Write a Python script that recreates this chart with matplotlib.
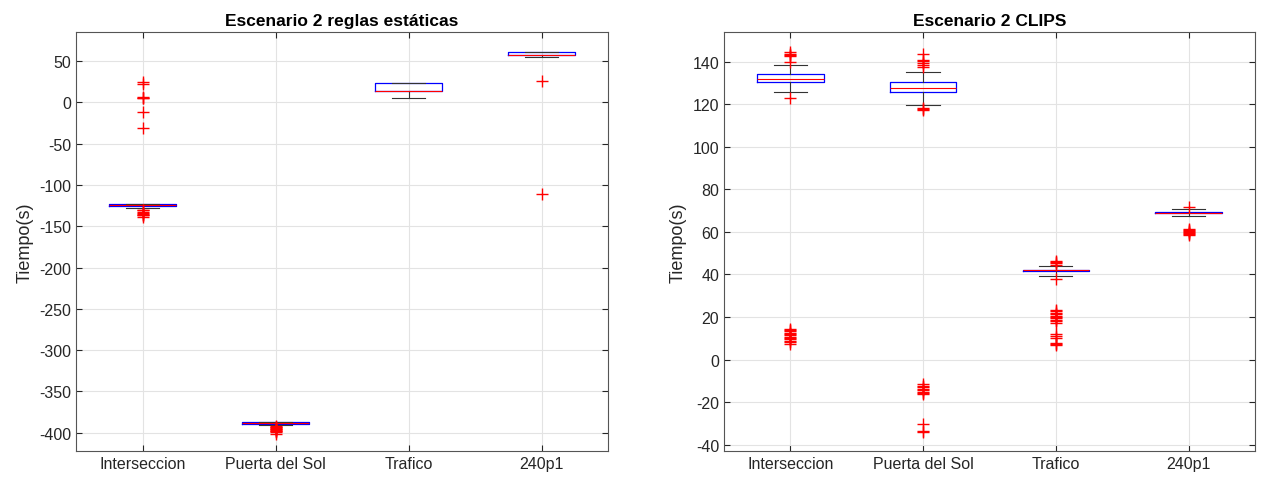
import matplotlib.pyplot as plt

plt.rcParams['font.family'] = ['Liberation Sans', 'DejaVu Sans']
plt.rcParams['axes.unicode_minus'] = False

categorias = ['Interseccion', 'Puerta del Sol', 'Trafico', '240p1']

# Escenario 2 reglas estaticas: q1, mediana, q3, bigote inferior, bigote superior
est_q1 = [-125.8, -389.0, 14.0, 57.6]
est_med = [-124.6, -388.3, 14.0, 57.6]
est_q3 = [-123.4, -387.5, 23.7, 61.2]
est_lo = [-128.2, -390.0, 4.8, 55.2]
est_hi = [-123.4, -386.5, 23.7, 61.2]
est_fliers = [
    [24.0, 22.6, 6.0, 5.4, 4.6, -11.4, -31.7, -130.0, -130.6, -133.4,
     -134.0, -134.7, -135.9, -136.5, -138.5],
    [-391.8, -392.6, -393.4, -394.2, -395.0, -395.8, -396.6, -397.4,
     -398.2, -399.0, -401.5],
    [],
    [25.8, -111.3],
]

# Escenario 2 CLIPS
clips_q1 = [130.3, 126.0, 41.4, 68.9]
clips_med = [131.7, 127.5, 41.9, 69.1]
clips_q3 = [134.1, 130.3, 42.3, 69.3]
clips_lo = [125.9, 119.5, 39.5, 67.5]
clips_hi = [138.3, 135.1, 44.2, 70.7]
clips_fliers = [
    [144.8, 143.8, 143.2, 142.6, 140.0, 123.2, 14.5, 13.9, 13.2, 12.6,
     12.0, 11.4, 10.8, 10.1, 9.5, 8.9, 8.2, 7.5],
    [143.5, 141.0, 140.2, 139.4, 138.6, 137.6, 118.5, 118.0, 117.2,
     -11.6, -12.3, -13.0, -13.7, -14.4, -15.1, -15.8, -16.3, -30.1,
     -33.6, -34.3],
    [46.5, 45.8, 45.2, 44.6, 37.7, 23.5, 22.8, 22.1, 21.4, 20.7, 20.0,
     19.3, 18.6, 17.9, 17.1, 12.1, 11.0, 10.1, 7.9, 7.5, 7.0],
    [71.7, 61.5, 61.0, 60.5, 60.0, 59.5, 59.0, 58.5],
]


def stats(q1, med, q3, lo, hi, fliers):
    out = []
    for i in range(len(q1)):
        out.append(dict(q1=q1[i], med=med[i], q3=q3[i], whislo=lo[i],
                        whishi=hi[i], fliers=fliers[i]))
    return out


def draw(ax, st, title, ylim, yticks):
    ax.bxp(st, positions=[1, 2, 3, 4], widths=0.5, capwidths=0.25,
           boxprops=dict(color='blue', linewidth=0.9),
           medianprops=dict(color='red', linewidth=0.8),
           whiskerprops=dict(color='#333333', linewidth=0.8),
           capprops=dict(color='#333333', linewidth=0.8),
           flierprops=dict(marker='+', markeredgecolor='red', markersize=8,
                           markeredgewidth=1.0, linestyle='none'))
    ax.set_xlim(0.5, 4.5)
    ax.set_ylim(*ylim)
    ax.set_yticks(yticks)
    ax.set_xticks([1, 2, 3, 4])
    ax.set_xticklabels(categorias)
    ax.grid(True, color='#e3e3e3', linewidth=0.8)
    ax.set_axisbelow(True)
    ax.tick_params(direction='in', top=True, right=True, labelsize=11.5,
                   colors='#262626', length=4, width=0.8)
    for s in ax.spines.values():
        s.set_color('#555555')
        s.set_linewidth(0.8)
    ax.set_title(title, fontsize=12.5, fontweight='bold', pad=5)
    ax.set_ylabel('Tiempo(s)', fontsize=13, color='#262626')


fig = plt.figure(figsize=(12.61, 4.81), dpi=100)
ax1 = fig.add_axes([0.0603, 0.0603, 0.4219, 0.8711])
ax2 = fig.add_axes([0.5741, 0.0603, 0.4211, 0.8711])

draw(ax1, stats(est_q1, est_med, est_q3, est_lo, est_hi, est_fliers),
     'Escenario 2 reglas estáticas', (-422, 85), range(-400, 51, 50))
draw(ax2, stats(clips_q1, clips_med, clips_q3, clips_lo, clips_hi, clips_fliers),
     'Escenario 2 CLIPS', (-43, 154), range(-40, 141, 20))

fig.savefig('out.png', dpi=100)
